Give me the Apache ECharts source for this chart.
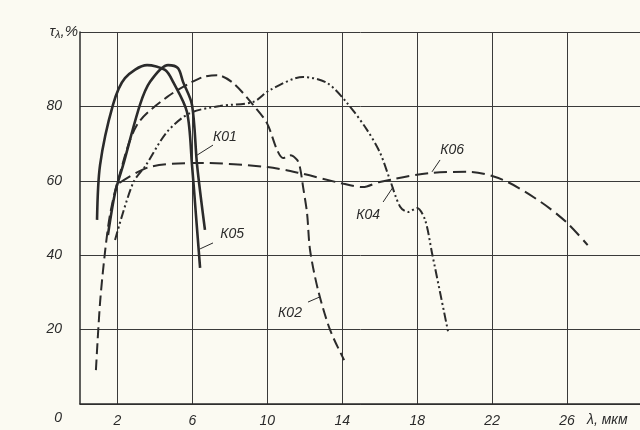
<!DOCTYPE html>
<html lang="ru">
  <head>
    <meta charset="UTF-8" />
    <script src="https://cdn.jsdelivr.net/npm/echarts@6/dist/echarts.min.js"></script>
    <title>τλ</title>
    <style>
      body { margin: 0; background: #fbfaf2; }
      #main { width: 640px; height: 430px; }
    </style>
  </head>
  <body>
    <div id="main"></div>
    <script>
      // тики осей
      const xGrid = [2, 6, 10, 14, 18, 22, 26, 30];
      const xLabels = [2, 6, 10, 14, 18, 22, 26];
      const yTicks = [0, 20, 40, 60, 80, 100];

      // К05 (сплошная, левая)
      const k05X = [0.91, 1.07, 1.76, 2.4, 3.58, 4.54, 4.97, 5.71, 5.98, 6.19, 6.41];
      const k05Y = [49.5, 64.2, 80.4, 87.6, 91.1, 89.8, 86.6, 78.5, 64.2, 50.8, 36.6];
      // К01 (сплошная, правая)
      const k01X = [1.49, 1.87, 2.3, 3.2, 3.74, 4.7, 5.23, 5.5, 5.98, 6.25, 6.67];
      const k01Y = [45.4, 56.7, 64.2, 80.4, 86.6, 91.1, 90.3, 86.6, 80.4, 64.2, 46.8];
      // К02 (штриховая)
      const k02X = [0.85, 1.07, 1.33, 1.6, 2.03, 3.04, 4.64, 6.41, 7.31, 8.17, 9.24, 9.98, 10.52, 10.84, 11.21, 11.59, 11.75, 11.91, 12.12, 12.28, 12.71, 13.35, 14.1];
      const k02Y = [9.1, 27.2, 40.6, 50.8, 60.2, 75.0, 82.5, 87.6, 88.4, 86.3, 80.4, 75.5, 68.3, 66.1, 66.9, 65.6, 63.4, 58.3, 51.3, 41.4, 30.6, 19.9, 11.8];
      // К04 (штрих-пунктир)
      const k04X = [1.87, 2.83, 3.52, 4.64, 5.87, 7.47, 9.24, 10.14, 11.91, 13.19, 14.26, 15.32, 16.02, 16.55, 17.09, 17.51, 17.99, 18.42, 18.79, 19.65];
      const k04Y = [44.1, 59.4, 64.2, 73.1, 78.2, 80.1, 81.2, 84.4, 87.9, 86.3, 80.9, 73.7, 67.5, 60.2, 53.0, 51.6, 52.7, 49.5, 40.6, 19.4];
      // К06 (длинный штрих)
      const k06X = [2.1, 3.7, 6.4, 10.0, 11.7, 13.9, 15.1, 16.0, 18.7, 20.8, 22.6, 24.6, 26.0, 27.1];
      const k06Y = [59.4, 63.7, 64.8, 63.7, 62.1, 59.4, 58.3, 59.7, 62.1, 62.4, 60.2, 54.3, 48.7, 42.7];

      const ink = "#2b2b2b";
      const font = "'Liberation Sans Narrow', 'Liberation Sans', sans-serif";

      function zip(xs, ys) {
        return xs.map((x, i) => [x, ys[i]]);
      }

      // подпись кривой с выноской
      function note(name, at, from, to) {
        return {
          markPoint: {
            symbol: "circle",
            symbolSize: 1,
            itemStyle: { color: "rgba(0,0,0,0)" },
            silent: true,
            data: [{ coord: at, label: { show: true, position: "inside", formatter: name, color: ink, fontSize: 14, fontStyle: "italic", fontFamily: font } }],
          },
          markLine: {
            symbol: "none",
            silent: true,
            label: { show: false },
            lineStyle: { color: ink, type: "solid", width: 1 },
            data: [[{ coord: from }, { coord: to }]],
          },
        };
      }

      function curve(name, xs, ys, type, width, extra) {
        return Object.assign(
          {
            name: name,
            type: "line",
            data: zip(xs, ys),
            smooth: 0.3,
            symbol: "none",
            lineStyle: { color: ink, width: width, type: type },
            z: 3,
          },
          extra
        );
      }

      const myChart = echarts.init(document.getElementById("main"));
      myChart.setOption({
        animation: false,
        backgroundColor: "#fbfaf2",
        grid: { left: 80, right: -2, top: 32, bottom: 26, outerBoundsMode: "none" },
        xAxis: {
          type: "value",
          min: 0,
          max: 30,
          name: "λ, мкм",
          nameLocation: "end",
          nameGap: -55,
          nameTextStyle: { color: ink, fontSize: 14, fontStyle: "italic", fontFamily: font, align: "left", verticalAlign: "top", padding: [9, 0, 0, 0] },
          axisLine: { lineStyle: { color: ink, width: 1.5 } },
          axisTick: { show: false, customValues: xGrid },
          axisLabel: { customValues: xLabels, color: ink, fontSize: 14, fontStyle: "italic", fontFamily: font, margin: 10 },
          splitLine: { show: true, lineStyle: { color: "#3a3a3a", width: 1 } },
        },
        yAxis: {
          type: "value",
          min: 0,
          max: 100,
          interval: 20,
          name: "{t|τ}{s|λ}{t|,%}",
          nameLocation: "end",
          nameGap: -8,
          nameTextStyle: {
            align: "right",
            padding: [0, 2, 0, 0],
            rich: {
              t: { color: ink, fontSize: 15, fontStyle: "italic", fontFamily: font },
              s: { color: ink, fontSize: 11, fontStyle: "italic", fontFamily: font, padding: [6, 0, 0, 0] },
            },
          },
          axisLine: { show: true, lineStyle: { color: ink, width: 1.5 } },
          axisTick: { show: false },
          axisLabel: {
            color: ink,
            fontSize: 14,
            fontStyle: "italic",
            fontFamily: font,
            margin: 18,
            formatter: (v) => (v === 100 ? "" : v === 0 ? "{o|0}" : String(v)),
            rich: { o: { color: ink, fontSize: 14, fontStyle: "italic", fontFamily: font, padding: [28, 0, 0, 0] } },
          },
          splitLine: { show: true, lineStyle: { color: "#3a3a3a", width: 1 } },
        },
        series: [
          curve("К05", k05X, k05Y, "solid", 2.6, note("К05", [8.12, 45.7], [7.1, 43.3], [6.41, 41.7])),
          curve("К01", k01X, k01Y, "solid", 2.6, note("К01", [7.74, 71.8], [7.1, 69.6], [6.25, 66.9])),
          curve("К02", k02X, k02Y, [11, 5], 2, note("К02", [11.21, 24.5], [12.17, 27.4], [12.81, 28.8])),
          curve("К04", k04X, k04Y, [9, 3, 2, 3, 2, 3], 2, note("К04", [15.38, 50.8], [16.18, 54.3], [16.71, 58.3])),
          curve("К06", k06X, k06Y, [13, 6], 2, note("К06", [19.86, 68.3], [19.22, 65.6], [18.79, 62.4])),
        ],
      });
    </script>
  </body>
</html>
